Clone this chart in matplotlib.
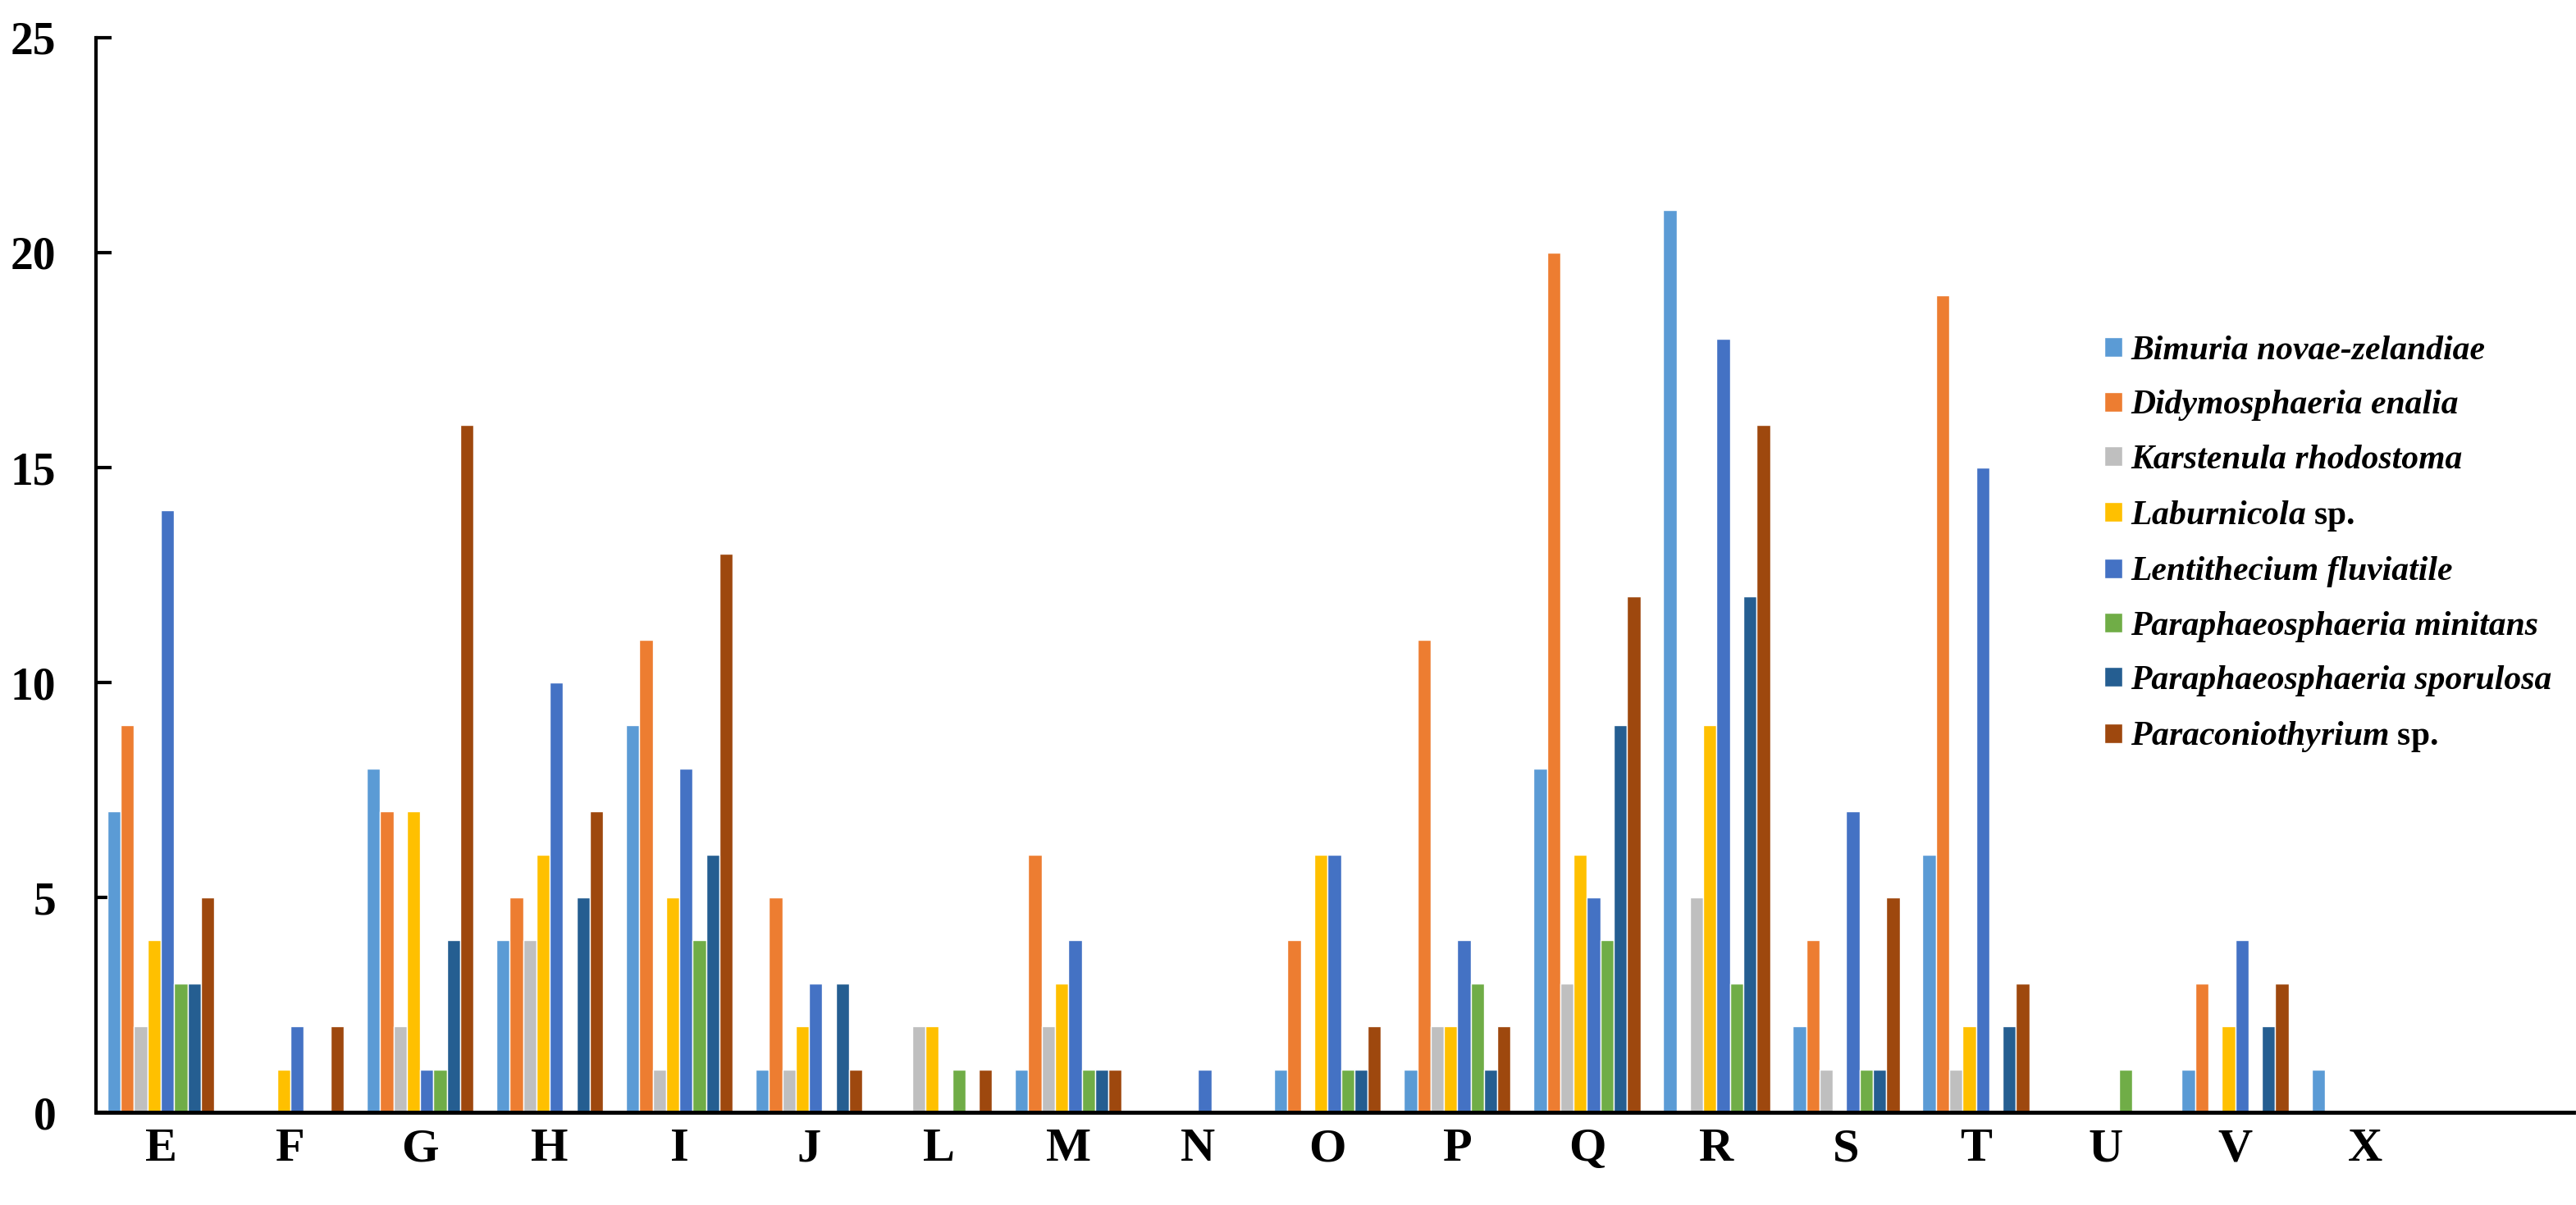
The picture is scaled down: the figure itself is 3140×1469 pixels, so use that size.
import numpy as np
import matplotlib
matplotlib.use('Agg')
import matplotlib.pyplot as plt

plt.rcParams['font.family'] = ['Liberation Serif', 'DejaVu Serif']
plt.rcParams['mathtext.fontset'] = 'custom'
plt.rcParams['mathtext.it'] = 'Liberation Serif:italic:bold'
plt.rcParams['mathtext.rm'] = 'Liberation Serif:bold'

categories = ['E', 'F', 'G', 'H', 'I', 'J', 'L', 'M', 'N', 'O', 'P', 'Q', 'R',
              'S', 'T', 'U', 'V', 'X']

species = [
    'Bimuria novae-zelandiae',
    'Didymosphaeria enalia',
    'Karstenula rhodostoma',
    r'$\mathit{Laburnicola}$ sp.',
    'Lentithecium fluviatile',
    'Paraphaeosphaeria minitans',
    'Paraphaeosphaeria sporulosa',
    r'$\mathit{Paraconiothyrium}$ sp.',
]

bimuria = [7, 0, 8, 4, 9, 1, 0, 1, 0, 1, 1, 8, 21, 2, 6, 0, 1, 1]
didymo = [9, 0, 7, 5, 11, 5, 0, 6, 0, 4, 11, 20, 0, 4, 19, 0, 3, 0]
karsten = [2, 0, 2, 4, 1, 1, 2, 2, 0, 0, 2, 3, 5, 1, 1, 0, 0, 0]
laburn = [4, 1, 7, 6, 5, 2, 2, 3, 0, 6, 2, 6, 9, 0, 2, 0, 2, 0]
lentith = [14, 2, 1, 10, 8, 3, 0, 4, 1, 6, 4, 5, 18, 7, 15, 0, 4, 0]
p_minit = [3, 0, 1, 0, 4, 0, 1, 1, 0, 1, 3, 4, 3, 1, 0, 1, 0, 0]
p_sporul = [3, 0, 4, 5, 6, 3, 0, 1, 0, 1, 1, 9, 12, 1, 2, 0, 2, 0]
paracon = [5, 2, 16, 7, 13, 1, 1, 1, 0, 2, 2, 12, 16, 5, 3, 0, 3, 0]

series = [bimuria, didymo, karsten, laburn, lentith, p_minit, p_sporul, paracon]
colors = ['#5B9BD5', '#ED7D31', '#BFBFBF', '#FFC000', '#4472C4', '#70AD47',
          '#255E91', '#9E480E']

fig = plt.figure(figsize=(31.4, 14.69), dpi=100)
ax = fig.add_axes([0.03726, 0.0769, 0.9618, 0.8918])

x = np.arange(len(categories))
w = 0.103
for i, (vals, col, lab) in enumerate(zip(series, colors, species)):
    vals = np.array(vals, dtype=float)
    ax.bar(x + (i - 3.5) * w, vals, w, color=col, edgecolor='white',
           linewidth=1.0, label=lab, zorder=2)

ax.set_xlim(-0.5, 18.61)
ax.set_ylim(0, 25)
ax.set_yticks([0, 5, 10, 15, 20, 25])
ax.set_xticks(x)
ax.set_xticklabels(categories, fontsize=42, fontweight='bold')
for t in ax.get_yticklabels():
    t.set_fontsize(40)
    t.set_fontweight('bold')

ax.tick_params(axis='x', length=0, pad=14)
ax.tick_params(axis='y', direction='in', length=14, width=3, pad=35)

for s in ['top', 'right']:
    ax.spines[s].set_visible(False)
ax.spines['left'].set_linewidth(3)
ax.spines['bottom'].set_linewidth(3.5)
ax.spines['bottom'].set_zorder(3)

leg = fig.legend(loc='upper left', bbox_to_anchor=(0.8169, 0.7215),
                 frameon=False, prop={'size': 30, 'weight': 'bold'},
                 handlelength=0.52, handleheight=0.52, handletextpad=0.25,
                 labelspacing=0.68, borderpad=0, borderaxespad=0)
for t in leg.get_texts():
    if '$' not in t.get_text():
        t.set_fontstyle('italic')

fig.savefig('out.png', dpi=100)
